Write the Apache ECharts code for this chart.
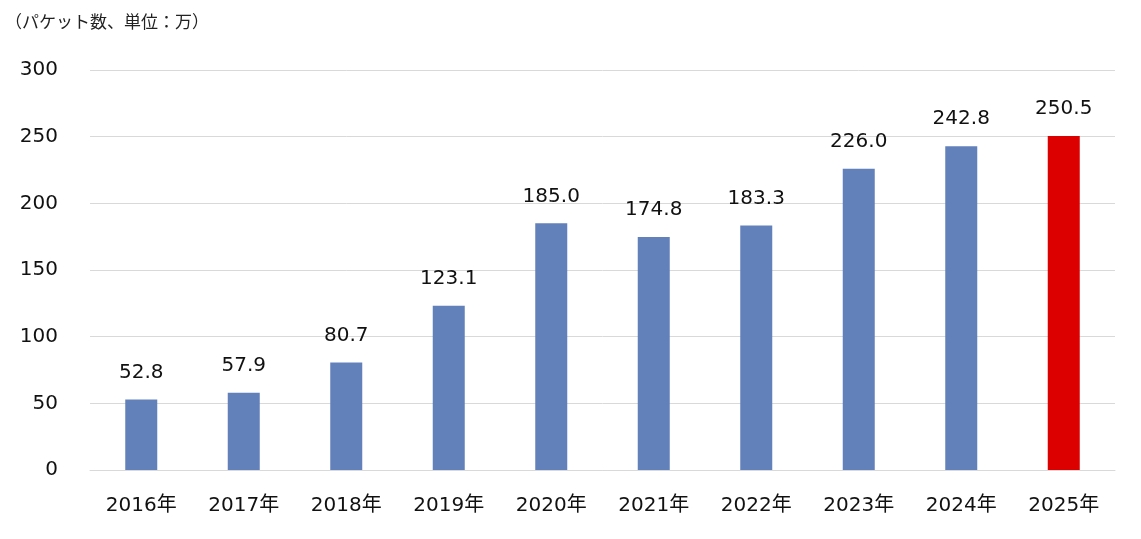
<!DOCTYPE html>
<html><head><meta charset="utf-8">
<script src="https://cdn.jsdelivr.net/npm/echarts@6/dist/echarts.min.js"></script>
<style>html,body{margin:0;padding:0;background:#fff}#c{width:1141px;height:539px}</style>
</head><body><div id="c"></div>
<script>
const categories = ['2016年','2017年','2018年','2019年','2020年','2021年','2022年','2023年','2024年','2025年'];
const values = [52.8, 57.9, 80.7, 123.1, 185.0, 174.8, 183.3, 226.0, 242.8, 250.5];
const unitLabel = '（パケット数、単位：万）';
const FONT = '"DejaVu Sans", "Noto Sans CJK JP", sans-serif';
const chart = echarts.init(document.getElementById('c'));
chart.setOption({
  animation: false,
  title: { text: unitLabel, left: 0, top: 8, textStyle: { fontFamily: '"Noto Sans CJK JP", sans-serif', fontSize: 17, fontWeight: 'normal', color: '#222' } },
  grid: { left: 90, right: 26, top: 70, bottom: 69 },
  xAxis: {
    type: 'category', data: categories,
    axisLine: { lineStyle: { color: '#d9d9d9' } },
    axisTick: { show: false },
    axisLabel: { fontFamily: FONT, fontSize: 20, color: '#111', margin: 26 }
  },
  yAxis: {
    type: 'value', min: 0, max: 300, interval: 50,
    axisLabel: { fontFamily: FONT, fontSize: 20, color: '#111', margin: 32 },
    splitLine: { lineStyle: { color: '#d9d9d9' } }
  },
  series: [{
    type: 'bar', barWidth: 32,
    data: values.map((v, i) => ({ value: v, itemStyle: { color: i === values.length - 1 ? '#DC0000' : '#6281BB' } })),
    label: { show: true, position: 'top', distance: 17, formatter: p => p.value.toFixed(1), fontFamily: FONT, fontSize: 20, color: '#111' }
  }]
});
</script></body></html>
